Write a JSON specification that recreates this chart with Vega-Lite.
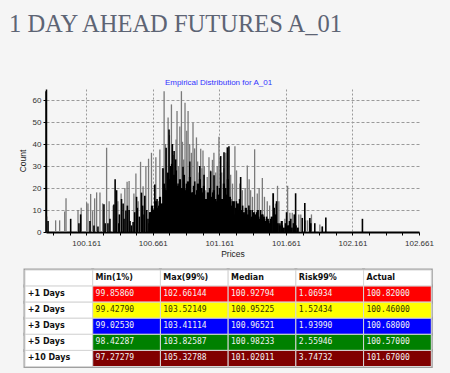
{
  "$schema": "https://vega.github.io/schema/vega-lite/v6.json",
  "autosize": {"type": "none"},
  "width": 373,
  "height": 143,
  "padding": {"left": 46, "top": 89, "right": 31, "bottom": 141},
  "background": "#f5f5f5",
  "config": {
    "view": {"stroke": null},
    "font": "Liberation Sans",
    "axis": {"labelFont": "Liberation Sans", "titleFont": "Liberation Sans"}
  },
  "title": {
    "text": "1 DAY AHEAD FUTURES A_01",
    "anchor": "start",
    "frame": "group",
    "dx": -37,
    "offset": 41,
    "font": "Liberation Serif",
    "fontSize": 24.5,
    "fontWeight": "normal",
    "color": "#5d6474"
  },
  "datasets": {
    "hist": [
      {"p": 99.866, "c": 7, "s": "g"}, {"p": 99.931, "c": 5.3, "s": "g"}, {"p": 99.961, "c": 5.3, "s": "g"},
      {"p": 99.999, "c": 9.3, "s": "g"}, {"p": 100.009, "c": 15.3, "s": "g"}, {"p": 100.099, "c": 10, "s": "g"},
      {"p": 100.123, "c": 11, "s": "g"}, {"p": 100.164, "c": 13.4, "s": "g"}, {"p": 100.174, "c": 13, "s": "g"},
      {"p": 100.194, "c": 17.3, "s": "g"}, {"p": 100.209, "c": 9.5, "s": "g"}, {"p": 100.224, "c": 15.3, "s": "g"},
      {"p": 100.239, "c": 18, "s": "g"}, {"p": 100.264, "c": 18, "s": "g"}, {"p": 100.284, "c": 13, "s": "g"},
      {"p": 100.314, "c": 38.3, "s": "g"}, {"p": 100.333, "c": 14, "s": "g"}, {"p": 100.363, "c": 12, "s": "g"},
      {"p": 100.399, "c": 14, "s": "g"}, {"p": 100.423, "c": 17.5, "s": "g"}, {"p": 100.451, "c": 20, "s": "g"},
      {"p": 100.468, "c": 22.8, "s": "g"}, {"p": 100.483, "c": 23.2, "s": "g"}, {"p": 100.519, "c": 17.5, "s": "g"},
      {"p": 100.534, "c": 26.6, "s": "g"}, {"p": 100.551, "c": 14, "s": "g"}, {"p": 100.569, "c": 31.9, "s": "g"},
      {"p": 100.588, "c": 20.8, "s": "g"}, {"p": 100.609, "c": 30, "s": "g"}, {"p": 100.629, "c": 33.3, "s": "g"},
      {"p": 100.651, "c": 36, "s": "g"}, {"p": 100.684, "c": 34, "s": "g"}, {"p": 100.704, "c": 14, "s": "g"},
      {"p": 100.714, "c": 37.5, "s": "g"}, {"p": 100.734, "c": 29, "s": "g"}, {"p": 100.746, "c": 64, "s": "g"},
      {"p": 100.756, "c": 40, "s": "g"}, {"p": 100.776, "c": 52, "s": "g"}, {"p": 100.786, "c": 44, "s": "g"},
      {"p": 100.801, "c": 58, "s": "g"}, {"p": 100.815, "c": 35, "s": "g"}, {"p": 100.826, "c": 25, "s": "g"},
      {"p": 100.836, "c": 42, "s": "g"}, {"p": 100.843, "c": 55, "s": "g"}, {"p": 100.853, "c": 30, "s": "g"},
      {"p": 100.864, "c": 48, "s": "g"}, {"p": 100.876, "c": 64, "s": "g"}, {"p": 100.884, "c": 41, "s": "g"},
      {"p": 100.893, "c": 33, "s": "g"}, {"p": 100.903, "c": 58.8, "s": "g"}, {"p": 100.916, "c": 46, "s": "g"},
      {"p": 100.926, "c": 55, "s": "g"}, {"p": 100.938, "c": 40, "s": "g"}, {"p": 100.951, "c": 36, "s": "g"},
      {"p": 100.963, "c": 49.7, "s": "g"}, {"p": 100.975, "c": 38, "s": "g"}, {"p": 100.989, "c": 43, "s": "g"},
      {"p": 100.998, "c": 32, "s": "g"}, {"p": 101.008, "c": 27, "s": "g"}, {"p": 101.021, "c": 37.8, "s": "g"},
      {"p": 101.03, "c": 29, "s": "g"}, {"p": 101.038, "c": 37, "s": "g"}, {"p": 101.048, "c": 30, "s": "g"},
      {"p": 101.059, "c": 19, "s": "g"}, {"p": 101.07, "c": 25, "s": "g"}, {"p": 101.083, "c": 34, "s": "g"},
      {"p": 101.095, "c": 28, "s": "g"}, {"p": 101.109, "c": 32.8, "s": "g"}, {"p": 101.12, "c": 36, "s": "g"},
      {"p": 101.134, "c": 27, "s": "g"}, {"p": 101.145, "c": 30, "s": "g"}, {"p": 101.158, "c": 43.3, "s": "g"},
      {"p": 101.168, "c": 33, "s": "g"}, {"p": 101.179, "c": 27, "s": "g"}, {"p": 101.195, "c": 29, "s": "g"},
      {"p": 101.209, "c": 36, "s": "g"}, {"p": 101.222, "c": 32, "s": "g"}, {"p": 101.246, "c": 26, "s": "g"},
      {"p": 101.26, "c": 22, "s": "g"}, {"p": 101.278, "c": 39, "s": "g"}, {"p": 101.29, "c": 28, "s": "g"},
      {"p": 101.304, "c": 12, "s": "g"}, {"p": 101.315, "c": 22, "s": "g"}, {"p": 101.334, "c": 19, "s": "g"},
      {"p": 101.355, "c": 20, "s": "g"}, {"p": 101.371, "c": 30.2, "s": "g"}, {"p": 101.385, "c": 24, "s": "g"},
      {"p": 101.396, "c": 19, "s": "g"}, {"p": 101.41, "c": 16, "s": "g"}, {"p": 101.426, "c": 37.6, "s": "g"},
      {"p": 101.446, "c": 17.5, "s": "g"}, {"p": 101.46, "c": 20, "s": "g"}, {"p": 101.484, "c": 24.5, "s": "g"},
      {"p": 101.5, "c": 16, "s": "g"}, {"p": 101.521, "c": 14, "s": "g"}, {"p": 101.539, "c": 12, "s": "g"},
      {"p": 101.563, "c": 17.6, "s": "g"}, {"p": 101.583, "c": 12.9, "s": "g"}, {"p": 101.598, "c": 21, "s": "g"},
      {"p": 101.608, "c": 14, "s": "g"}, {"p": 101.653, "c": 6, "s": "g"}, {"p": 101.674, "c": 21, "s": "g"},
      {"p": 101.691, "c": 8.8, "s": "g"}, {"p": 101.709, "c": 8.8, "s": "g"}, {"p": 101.758, "c": 8, "s": "g"},
      {"p": 101.773, "c": 8, "s": "g"}, {"p": 101.808, "c": 5.3, "s": "g"}, {"p": 101.823, "c": 5.3, "s": "g"},
      {"p": 101.838, "c": 5.3, "s": "g"}, {"p": 101.853, "c": 8, "s": "g"}, {"p": 101.916, "c": 3.4, "s": "g"},
      {"p": 101.936, "c": 2.5, "s": "g"},

      {"p": 99.859, "c": 64, "s": "k"}, {"p": 99.874, "c": 5, "s": "k"}, {"p": 100.044, "c": 6, "s": "k"},
      {"p": 100.106, "c": 4, "s": "k"}, {"p": 100.119, "c": 8, "s": "k"}, {"p": 100.189, "c": 5, "s": "k"},
      {"p": 100.219, "c": 3, "s": "k"}, {"p": 100.249, "c": 2.5, "s": "k"}, {"p": 100.294, "c": 12.6, "s": "k"},
      {"p": 100.303, "c": 4, "s": "k"}, {"p": 100.324, "c": 4, "s": "k"}, {"p": 100.339, "c": 6, "s": "k"},
      {"p": 100.369, "c": 12.5, "s": "k"}, {"p": 100.378, "c": 24, "s": "k"}, {"p": 100.389, "c": 19, "s": "k"},
      {"p": 100.406, "c": 4, "s": "k"}, {"p": 100.41, "c": 8, "s": "k"}, {"p": 100.426, "c": 15, "s": "k"},
      {"p": 100.438, "c": 13, "s": "k"}, {"p": 100.445, "c": 6, "s": "k"}, {"p": 100.459, "c": 9.8, "s": "k"},
      {"p": 100.47, "c": 12, "s": "k"}, {"p": 100.483, "c": 10, "s": "k"}, {"p": 100.49, "c": 5, "s": "k"},
      {"p": 100.501, "c": 3, "s": "k"}, {"p": 100.513, "c": 4.5, "s": "k"}, {"p": 100.525, "c": 9, "s": "k"},
      {"p": 100.539, "c": 16, "s": "k"}, {"p": 100.545, "c": 11, "s": "k"}, {"p": 100.56, "c": 7, "s": "k"},
      {"p": 100.576, "c": 17.9, "s": "k"}, {"p": 100.585, "c": 12, "s": "k"}, {"p": 100.595, "c": 8, "s": "k"},
      {"p": 100.601, "c": 16.5, "s": "k"}, {"p": 100.615, "c": 10, "s": "k"}, {"p": 100.625, "c": 6, "s": "k"},
      {"p": 100.633, "c": 4, "s": "k"}, {"p": 100.642, "c": 9, "s": "k"},
      {"p": 100.653, "c": 11, "s": "k"}, {"p": 100.661, "c": 10.8, "s": "k"}, {"p": 100.676, "c": 21.6, "s": "k"},
      {"p": 100.693, "c": 15, "s": "k"}, {"p": 100.706, "c": 12, "s": "k"}, {"p": 100.726, "c": 10, "s": "k"},
      {"p": 100.738, "c": 29, "s": "k"}, {"p": 100.751, "c": 20, "s": "k"}, {"p": 100.761, "c": 38.3, "s": "k"},
      {"p": 100.774, "c": 25, "s": "k"}, {"p": 100.783, "c": 46.6, "s": "k"}, {"p": 100.796, "c": 30, "s": "k"},
      {"p": 100.808, "c": 40, "s": "k"}, {"p": 100.821, "c": 36.8, "s": "k"}, {"p": 100.833, "c": 33, "s": "k"},
      {"p": 100.851, "c": 22, "s": "k"}, {"p": 100.864, "c": 18, "s": "k"}, {"p": 100.888, "c": 29.7, "s": "k"},
      {"p": 100.901, "c": 20, "s": "k"}, {"p": 100.914, "c": 22, "s": "k"}, {"p": 100.939, "c": 32, "s": "k"},
      {"p": 100.951, "c": 15, "s": "k"}, {"p": 100.961, "c": 18, "s": "k"}, {"p": 100.976, "c": 23, "s": "k"},
      {"p": 100.991, "c": 19, "s": "k"}, {"p": 101.001, "c": 12, "s": "k"}, {"p": 101.014, "c": 30, "s": "k"},
      {"p": 101.029, "c": 20, "s": "k"}, {"p": 101.046, "c": 26, "s": "k"}, {"p": 101.059, "c": 13, "s": "k"},
      {"p": 101.071, "c": 8, "s": "k"}, {"p": 101.081, "c": 15, "s": "k"}, {"p": 101.096, "c": 27.6, "s": "k"},
      {"p": 101.111, "c": 18, "s": "k"}, {"p": 101.121, "c": 25.8, "s": "k"}, {"p": 101.134, "c": 15, "s": "k"},
      {"p": 101.146, "c": 21, "s": "k"}, {"p": 101.156, "c": 12, "s": "k"}, {"p": 101.171, "c": 34.5, "s": "k"},
      {"p": 101.184, "c": 10, "s": "k"}, {"p": 101.196, "c": 36.3, "s": "k"}, {"p": 101.209, "c": 20, "s": "k"},
      {"p": 101.221, "c": 38.5, "s": "k"}, {"p": 101.233, "c": 39, "s": "k"}, {"p": 101.246, "c": 15, "s": "k"},
      {"p": 101.259, "c": 14, "s": "k"}, {"p": 101.274, "c": 8, "s": "k"}, {"p": 101.289, "c": 14, "s": "k"},
      {"p": 101.304, "c": 10, "s": "k"}, {"p": 101.321, "c": 25, "s": "k"}, {"p": 101.336, "c": 12, "s": "k"},
      {"p": 101.351, "c": 8, "s": "k"}, {"p": 101.366, "c": 10, "s": "k"}, {"p": 101.383, "c": 12, "s": "k"},
      {"p": 101.396, "c": 6, "s": "k"}, {"p": 101.408, "c": 10, "s": "k"}, {"p": 101.423, "c": 8, "s": "k"},
      {"p": 101.441, "c": 9, "s": "k"}, {"p": 101.456, "c": 7, "s": "k"}, {"p": 101.471, "c": 10, "s": "k"},
      {"p": 101.488, "c": 8, "s": "k"}, {"p": 101.501, "c": 6, "s": "k"}, {"p": 101.516, "c": 7, "s": "k"},
      {"p": 101.531, "c": 5, "s": "k"}, {"p": 101.546, "c": 6, "s": "k"}, {"p": 101.566, "c": 17.6, "s": "k"},
      {"p": 101.573, "c": 11, "s": "k"}, {"p": 101.591, "c": 14, "s": "k"}, {"p": 101.616, "c": 4, "s": "k"},
      {"p": 101.634, "c": 3, "s": "k"}, {"p": 101.666, "c": 9, "s": "k"}, {"p": 101.683, "c": 3, "s": "k"},
      {"p": 101.698, "c": 6, "s": "k"}, {"p": 101.724, "c": 8, "s": "k"}, {"p": 101.734, "c": 17.6, "s": "k"},
      {"p": 101.784, "c": 6.4, "s": "k"}, {"p": 101.803, "c": 13.2, "s": "k"}, {"p": 101.841, "c": 6.4, "s": "k"},
      {"p": 101.848, "c": 4, "s": "k"}, {"p": 101.878, "c": 4, "s": "k"}, {"p": 101.934, "c": 2.5, "s": "k"},
      {"p": 101.961, "c": 6.6, "s": "k"}, {"p": 102.236, "c": 6, "s": "k"},

      {"p": 100.64, "c": 9, "s": "f"}, {"p": 100.655, "c": 12, "s": "f"}, {"p": 100.67, "c": 10, "s": "f"},
      {"p": 100.685, "c": 14, "s": "f"}, {"p": 100.7, "c": 11, "s": "f"}, {"p": 100.715, "c": 16, "s": "f"},
      {"p": 100.73, "c": 13, "s": "f"}, {"p": 100.745, "c": 22, "s": "f"}, {"p": 100.76, "c": 19, "s": "f"},
      {"p": 100.775, "c": 27, "s": "f"}, {"p": 100.79, "c": 24, "s": "f"}, {"p": 100.805, "c": 31, "s": "f"},
      {"p": 100.82, "c": 26, "s": "f"}, {"p": 100.835, "c": 28, "s": "f"}, {"p": 100.85, "c": 21, "s": "f"},
      {"p": 100.865, "c": 24, "s": "f"}, {"p": 100.88, "c": 20, "s": "f"}, {"p": 100.895, "c": 26, "s": "f"},
      {"p": 100.91, "c": 19, "s": "f"}, {"p": 100.925, "c": 23, "s": "f"}, {"p": 100.94, "c": 25, "s": "f"},
      {"p": 100.955, "c": 18, "s": "f"}, {"p": 100.97, "c": 21, "s": "f"}, {"p": 100.985, "c": 17, "s": "f"},
      {"p": 101.0, "c": 22, "s": "f"}, {"p": 101.015, "c": 24, "s": "f"}, {"p": 101.03, "c": 18, "s": "f"},
      {"p": 101.045, "c": 21, "s": "f"}, {"p": 101.06, "c": 15, "s": "f"}, {"p": 101.075, "c": 18, "s": "f"},
      {"p": 101.09, "c": 20, "s": "f"}, {"p": 101.105, "c": 16, "s": "f"}, {"p": 101.12, "c": 19, "s": "f"},
      {"p": 101.135, "c": 14, "s": "f"}, {"p": 101.15, "c": 17, "s": "f"}, {"p": 101.165, "c": 20, "s": "f"},
      {"p": 101.18, "c": 15, "s": "f"}, {"p": 101.195, "c": 22, "s": "f"}, {"p": 101.21, "c": 17, "s": "f"},
      {"p": 101.225, "c": 24, "s": "f"}, {"p": 101.24, "c": 16, "s": "f"}, {"p": 101.255, "c": 12, "s": "f"},
      {"p": 101.27, "c": 14, "s": "f"}, {"p": 101.285, "c": 11, "s": "f"}, {"p": 101.3, "c": 13, "s": "f"},
      {"p": 101.315, "c": 15, "s": "f"}, {"p": 101.33, "c": 10, "s": "f"}, {"p": 101.345, "c": 9, "s": "f"},
      {"p": 101.36, "c": 11, "s": "f"}, {"p": 101.375, "c": 8, "s": "f"}, {"p": 101.39, "c": 10, "s": "f"},
      {"p": 101.405, "c": 7, "s": "f"}, {"p": 101.42, "c": 9, "s": "f"}, {"p": 101.435, "c": 8, "s": "f"},
      {"p": 101.45, "c": 10, "s": "f"}, {"p": 101.465, "c": 6, "s": "f"}, {"p": 101.48, "c": 8, "s": "f"},
      {"p": 101.495, "c": 7, "s": "f"}, {"p": 101.51, "c": 5, "s": "f"}, {"p": 101.525, "c": 6, "s": "f"},
      {"p": 101.54, "c": 4, "s": "f"}, {"p": 101.555, "c": 7, "s": "f"}, {"p": 101.57, "c": 5, "s": "f"},
      {"p": 101.585, "c": 8, "s": "f"}, {"p": 101.6, "c": 4, "s": "f"}, {"p": 101.615, "c": 3, "s": "f"},
      {"p": 101.63, "c": 5, "s": "f"}, {"p": 101.645, "c": 2, "s": "f"}, {"p": 101.66, "c": 4, "s": "f"},
      {"p": 101.675, "c": 3, "s": "f"}, {"p": 101.69, "c": 5, "s": "f"}, {"p": 101.705, "c": 2, "s": "f"},
      {"p": 101.72, "c": 4, "s": "f"}, {"p": 101.735, "c": 3, "s": "f"}, {"p": 101.75, "c": 2, "s": "f"}
    ],
    "table": [
      {"row": "Header", "col": "Label", "text": ""},
      {"row": "Header", "col": "Min(1%)", "text": "Min(1%)"},
      {"row": "Header", "col": "Max(99%)", "text": "Max(99%)"},
      {"row": "Header", "col": "Median", "text": "Median"},
      {"row": "Header", "col": "Risk99%", "text": "Risk99%"},
      {"row": "Header", "col": "Actual", "text": "Actual"},
      {"row": "+1 Days", "col": "Label", "text": "+1 Days"},
      {"row": "+1 Days", "col": "Min(1%)", "text": "99.85860"},
      {"row": "+1 Days", "col": "Max(99%)", "text": "102.66144"},
      {"row": "+1 Days", "col": "Median", "text": "100.92794"},
      {"row": "+1 Days", "col": "Risk99%", "text": "1.06934"},
      {"row": "+1 Days", "col": "Actual", "text": "100.82000"},
      {"row": "+2 Days", "col": "Label", "text": "+2 Days"},
      {"row": "+2 Days", "col": "Min(1%)", "text": "99.42790"},
      {"row": "+2 Days", "col": "Max(99%)", "text": "103.52149"},
      {"row": "+2 Days", "col": "Median", "text": "100.95225"},
      {"row": "+2 Days", "col": "Risk99%", "text": "1.52434"},
      {"row": "+2 Days", "col": "Actual", "text": "100.46000"},
      {"row": "+3 Days", "col": "Label", "text": "+3 Days"},
      {"row": "+3 Days", "col": "Min(1%)", "text": "99.02530"},
      {"row": "+3 Days", "col": "Max(99%)", "text": "103.41114"},
      {"row": "+3 Days", "col": "Median", "text": "100.96521"},
      {"row": "+3 Days", "col": "Risk99%", "text": "1.93990"},
      {"row": "+3 Days", "col": "Actual", "text": "100.68000"},
      {"row": "+5 Days", "col": "Label", "text": "+5 Days"},
      {"row": "+5 Days", "col": "Min(1%)", "text": "98.42287"},
      {"row": "+5 Days", "col": "Max(99%)", "text": "103.82587"},
      {"row": "+5 Days", "col": "Median", "text": "100.98233"},
      {"row": "+5 Days", "col": "Risk99%", "text": "2.55946"},
      {"row": "+5 Days", "col": "Actual", "text": "100.57000"},
      {"row": "+10 Days", "col": "Label", "text": "+10 Days"},
      {"row": "+10 Days", "col": "Min(1%)", "text": "97.27279"},
      {"row": "+10 Days", "col": "Max(99%)", "text": "105.32788"},
      {"row": "+10 Days", "col": "Median", "text": "101.02011"},
      {"row": "+10 Days", "col": "Risk99%", "text": "3.74732"},
      {"row": "+10 Days", "col": "Actual", "text": "101.67000"}
    ]
  },
  "layer": [
    {
      "data": {"name": "hist"},
      "encoding": {
        "x": {
          "field": "p",
          "type": "quantitative",
          "scale": {"domain": [99.8586, 102.661], "nice": false, "zero": false},
          "axis": {
            "orient": "bottom",
            "title": "Prices",
            "titleFontSize": 8.5,
            "titleFontWeight": "normal",
            "titleColor": "#222",
            "titlePadding": 2,
            "values": [99.911, 100.036, 100.161, 100.286, 100.411, 100.536, 100.661, 100.786, 100.911, 101.036, 101.161, 101.286, 101.411, 101.536, 101.661, 101.786, 101.911, 102.036, 102.161, 102.286, 102.411, 102.536, 102.661],
            "labelExpr": "indexof(['100.161','100.661','101.161','101.661','102.161','102.661'], format(datum.value, '.3f')) >= 0 ? format(datum.value, '.3f') : ''",
            "labelFontSize": 8,
            "labelColor": "#333",
            "labelPadding": 4,
            "labelFlush": false,
            "labelOverlap": false,
            "tickSize": 3,
            "tickColor": "#000",
            "domainColor": "#000",
            "domainWidth": 2,
            "grid": true,
            "gridColor": "#9a9a9a",
            "gridDash": [2, 2],
            "gridOpacity": {"condition": {"test": "indexof(['100.161','100.661','101.161','101.661','102.161'], format(datum.value, '.3f')) >= 0", "value": 1}, "value": 0}
          }
        },
        "y": {
          "field": "c",
          "type": "quantitative",
          "scale": {"domain": [0, 65], "nice": false},
          "axis": {
            "title": "Count",
            "titleFontSize": 8.5,
            "titleFontWeight": "normal",
            "titleColor": "#222",
            "titlePadding": 5,
            "values": [0, 10, 20, 30, 40, 50, 60],
            "labelFontSize": 8,
            "labelColor": "#333",
            "labelPadding": 2,
            "tickSize": 3,
            "tickColor": "#000",
            "domainColor": "#000",
            "domainWidth": 1.5,
            "grid": true,
            "gridColor": "#9a9a9a",
            "gridDash": [3, 2]
          }
        },
        "y2": {"datum": 0}
      },
      "layer": [
        {"transform": [{"filter": "datum.s === 'g'"}], "mark": {"type": "rule", "color": "#7a7a7a", "strokeWidth": 1.3}},
        {"transform": [{"filter": "datum.s === 'f'"}], "mark": {"type": "rule", "color": "#000000", "strokeWidth": 2.2}},
        {"transform": [{"filter": "datum.s === 'k'"}], "mark": {"type": "rule", "color": "#000000", "strokeWidth": 1.6}}
      ]
    },
    {
      "data": {"name": "table"},
      "encoding": {
        "x": {
          "field": "col",
          "type": "nominal",
          "sort": null,
          "scale": {"domain": ["Label", "Min(1%)", "Max(99%)", "Median", "Risk99%", "Actual"], "range": [-21, 385.3], "paddingInner": 0, "paddingOuter": 0},
          "axis": {
            "orient": "top",
            "title": "Empirical Distribution for A_01",
            "labels": false,
            "ticks": false,
            "domain": false,
            "grid": false,
            "titleX": 172,
            "titleY": -5,
            "titleFontSize": 8,
            "titleFontWeight": "normal",
            "titleColor": "#3333ff",
            "titleBaseline": "alphabetic"
          }
        },
        "y": {
          "field": "row",
          "type": "nominal",
          "sort": null,
          "scale": {"domain": ["Header", "+1 Days", "+2 Days", "+3 Days", "+5 Days", "+10 Days"], "range": [181, 277.5], "paddingInner": 0, "paddingOuter": 0},
          "axis": null
        }
      },
      "layer": [
        {"mark": {"type": "rect", "fill": "#a0a0a0", "stroke": "#a0a0a0", "strokeWidth": 3}},
        {
          "mark": {"type": "rect", "stroke": "#d6d6d6", "strokeWidth": 1},
          "encoding": {
            "fill": {
              "field": "row",
              "type": "nominal",
              "scale": {"domain": ["+1 Days", "+2 Days", "+3 Days", "+5 Days", "+10 Days", "Header"], "range": ["#ff0000", "#ffff00", "#0000ff", "#008000", "#800000", "#ffffff"]},
              "legend": null,
              "condition": {"test": "datum.col === 'Label'", "value": "#ffffff"}
            }
          }
        },
        {
          "transform": [{"filter": "datum.row === 'Header' || datum.col === 'Label'"}],
          "mark": {"type": "text", "align": "left", "baseline": "middle", "dx": -31, "font": "DejaVu Sans", "fontWeight": "bold", "fontSize": 8, "color": "#111111"},
          "encoding": {"text": {"field": "text"}}
        },
        {
          "transform": [{"filter": "datum.row !== 'Header' && datum.col !== 'Label'"}],
          "mark": {"type": "text", "align": "left", "baseline": "middle", "dx": -31, "font": "DejaVu Sans Mono", "fontSize": 8},
          "encoding": {
            "text": {"field": "text"},
            "color": {"condition": {"test": "datum.row === '+2 Days'", "value": "#333300"}, "value": "#f2f2f2"}
          }
        }
      ]
    }
  ],
  "resolve": {
    "scale": {"x": "independent", "y": "independent", "fill": "independent", "color": "independent"},
    "axis": {"x": "independent", "y": "independent"}
  }
}
